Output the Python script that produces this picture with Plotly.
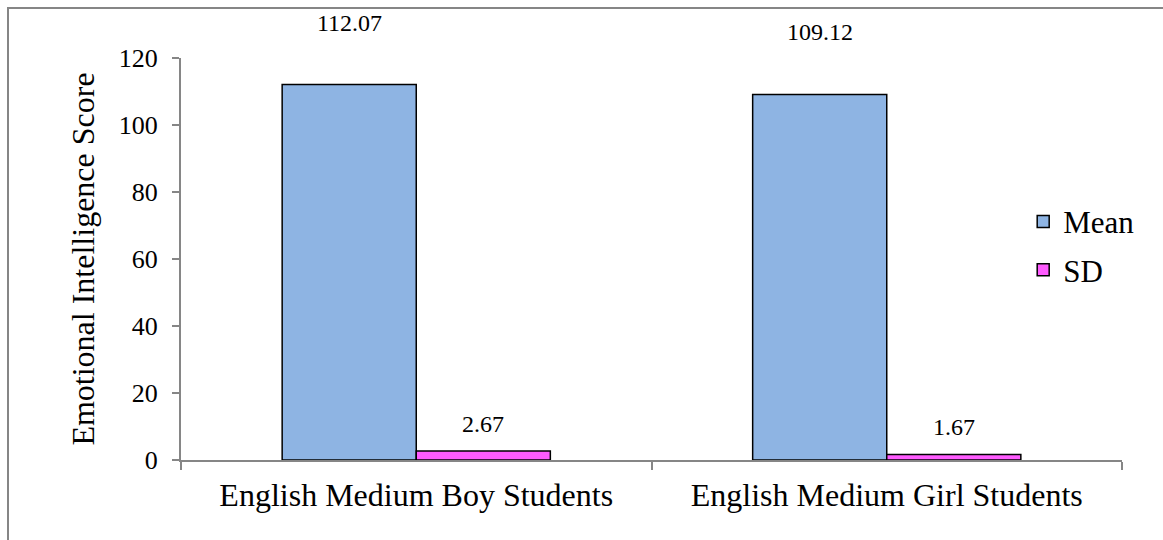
import plotly.graph_objects as go

categories = ["English Medium Boy Students", "English Medium Girl Students"]
mean_values = [112.07, 109.12]
sd_values = [2.67, 1.67]
y_ticks = [0, 20, 40, 60, 80, 100, 120]

FONT = "Liberation Serif, Times New Roman, serif"

fig = go.Figure()
fig.add_trace(go.Bar(
    name="Mean", x=categories, y=mean_values, legendgroup="m",
    marker=dict(color="#8EB4E3", line=dict(color="black", width=1.5)),
))
fig.add_trace(go.Bar(
    name="SD", x=categories, y=sd_values, legendgroup="s",
    marker=dict(color="#FF5BFF", line=dict(color="black", width=1.5)),
))

annotations = []
for c, v in zip(categories, mean_values):
    annotations.append(dict(x=c, y=v, xref="x", yref="y", text=f"{v:.2f}",
                            showarrow=False, xshift=-67, yshift=62,
                            font=dict(family=FONT, size=24, color="black")))
for c, v in zip(categories, sd_values):
    annotations.append(dict(x=c, y=v, xref="x", yref="y", text=f"{v:.2f}",
                            showarrow=False, xshift=67, yshift=27,
                            font=dict(family=FONT, size=24, color="black")))

fig.update_layout(
    width=1163, height=540,
    margin=dict(l=181, r=41, t=58, b=80),
    paper_bgcolor="white", plot_bgcolor="white",
    barmode="group", bargap=0.43, bargroupgap=0,
    font=dict(family=FONT, size=26, color="black"),
    showlegend=True,
    legend=dict(x=0.895, xanchor="left", y=0.533, yanchor="middle",
                font=dict(family=FONT, size=31), itemwidth=30,
                bgcolor="rgba(0,0,0,0)", tracegroupgap=5, traceorder="grouped"),
    xaxis=dict(showline=True, linecolor="#868686", linewidth=2,
               ticks="outside", tickson="boundaries", ticklen=8,
               tickcolor="#868686", tickwidth=2, showgrid=False,
               ticklabelstandoff=6,
               tickfont=dict(family=FONT, size=32)),
    yaxis=dict(range=[0, 120], tickvals=y_ticks, showline=True,
               linecolor="#868686", linewidth=2, ticks="outside", ticklen=7,
               tickcolor="#868686", tickwidth=2, showgrid=False, zeroline=False,
               ticklabelstandoff=9,
               tickfont=dict(family=FONT, size=26),
               title=dict(text="Emotional Intelligence Score",
                          font=dict(family=FONT, size=32), standoff=15)),
    annotations=annotations,
    shapes=[dict(type="rect", xref="paper", yref="paper",
                 x0=(8 - 181) / 941, x1=(1175 - 181) / 941,
                 y0=(460 - 550) / 402, y1=(460 - 8) / 402,
                 line=dict(color="#868686", width=2), layer="below")],
)

fig.write_html("out.html")
